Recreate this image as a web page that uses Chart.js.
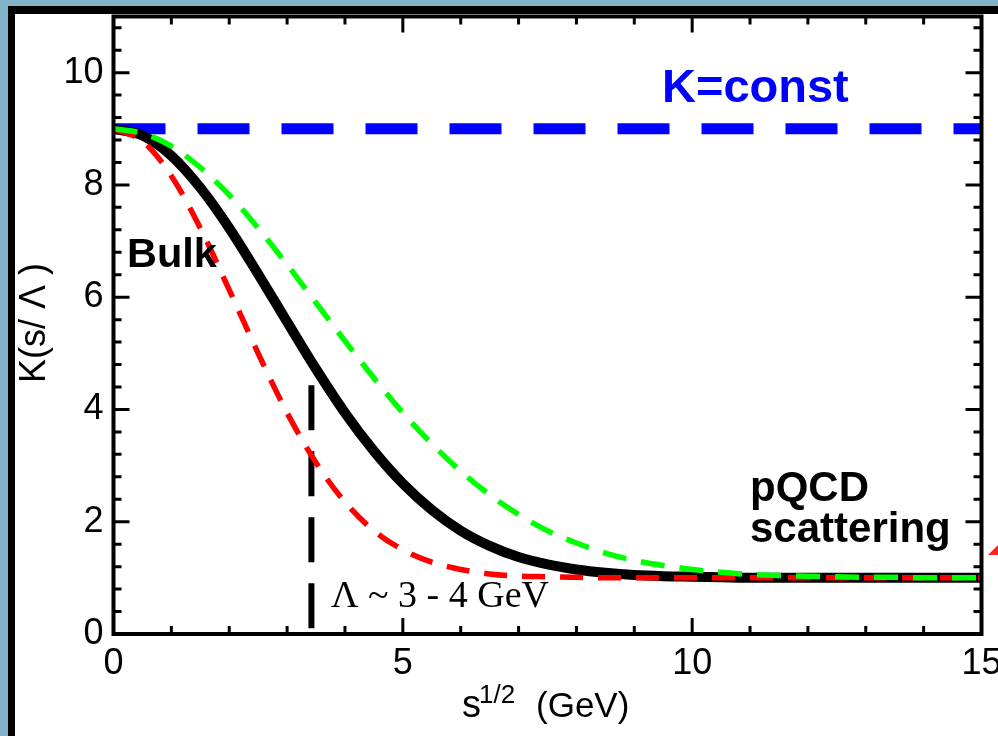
<!DOCTYPE html>
<html>
<head>
<meta charset="utf-8">
<script src="https://cdn.jsdelivr.net/npm/chart.js@4.4.1/dist/chart.umd.min.js"></script>
<style>
  html, body { margin: 0; padding: 0; width: 998px; height: 736px; overflow: hidden; background: #82b3cb; }
  #panel { position: absolute; left: 8px; top: 6px; width: 2000px; height: 2000px; background: #fff;
           border-left: 7px solid #000; border-top: 8px solid #000; }
  #c { position: absolute; left: 0; top: -24px; }
</style>
</head>
<body>
<div id="panel"></div>
<canvas id="c" width="1040" height="790"></canvas>
<script>
// ---- data ----
const sGrid = [0,0.5,1,1.5,2,2.5,3,3.5,4,4.5,5,5.5,6,6.5,7,7.5,8,8.5,9,9.5,10,10.5,11,11.5,12,12.5,13,13.5,14,14.5,15];
const kBlack = [9.00,8.88,8.52,7.95,7.23,6.41,5.56,4.72,3.94,3.26,2.68,2.21,1.84,1.57,1.37,1.24,1.15,1.09,1.05,1.03,1.02,1.01,1.00,1.00,1.00,1.00,1.00,1.00,1.00,1.00,1.00];
const kRed   = [9.00,8.78,8.16,7.23,6.13,5.00,3.94,3.05,2.35,1.84,1.50,1.28,1.15,1.07,1.03,1.02,1.01,1.00,1.00,1.00,1.00,1.00,1.00,1.00,1.00,1.00,1.00,1.00,1.00,1.00,1.00];
const kGreen = [9.00,8.92,8.69,8.31,7.82,7.23,6.58,5.90,5.22,4.56,3.94,3.39,2.90,2.48,2.13,1.84,1.62,1.44,1.31,1.22,1.15,1.10,1.06,1.04,1.03,1.02,1.01,1.01,1.00,1.00,1.00];
const constX = [0, 15];
const constK = [9, 9];
const lambdaX = [3.42, 3.42];
const lambdaK = [4.43, 0];
const xTicks = [0, 5, 10, 15];
const yTicks = [0, 2, 4, 6, 8, 10];
const xRange = [0, 15];
const yRange = [0, 11];

const OFFY = 24; // canvas is shifted up by this amount
const pts = (xs, ys) => xs.map((x, i) => ({x: x, y: ys[i]}));

const decor = {
  id: 'decor',
  afterDatasetsDraw(chart) {
    const ctx = chart.ctx;
    const xs = chart.scales.x, ys = chart.scales.y;
    const a = chart.chartArea;
    ctx.save();
    // frame
    ctx.strokeStyle = '#000';
    ctx.lineWidth = 4;
    ctx.lineCap = 'butt';
    ctx.strokeRect(a.left, a.top, a.right - a.left, a.bottom - a.top);
    // inward ticks
    ctx.lineWidth = 3;
    ctx.beginPath();
    for (let v = 0; v <= 15; v += 1) {
      const px = xs.getPixelForValue(v);
      const len = (v % 5 === 0) ? 16 : 8;
      ctx.moveTo(px, a.bottom); ctx.lineTo(px, a.bottom - len);
      ctx.moveTo(px, a.top); ctx.lineTo(px, a.top + len);
    }
    for (let i = 0; i <= 27; i++) {
      const v = i * 0.4;
      const py = ys.getPixelForValue(v);
      const len = (i % 5 === 0) ? 16 : 8;
      ctx.moveTo(a.left, py); ctx.lineTo(a.left + len, py);
      ctx.moveTo(a.right, py); ctx.lineTo(a.right - len, py);
    }
    ctx.stroke();

    // annotations (page coords -> canvas coords)
    const T = (txt, x, y, font, color, align) => {
      ctx.font = font; ctx.fillStyle = color; ctx.textAlign = align || 'left'; ctx.textBaseline = 'alphabetic';
      ctx.fillText(txt, x, y + OFFY);
    };
    T('K=const', 662, 102, 'bold 47px "Liberation Sans", Arial, sans-serif', '#0000ff');
    T('Bulk', 127, 267, 'bold 41.5px "Liberation Sans", Arial, sans-serif', '#000');
    T('pQCD', 750, 501, 'bold 42px "Liberation Sans", Arial, sans-serif', '#000');
    T('scattering', 750, 542, 'bold 42px "Liberation Sans", Arial, sans-serif', '#000');
    T('\u039B ~ 3 - 4 GeV', 331, 607, '38px "Liberation Serif", "Times New Roman", serif', '#000');
    // x axis title with superscript
    T('s', 462, 717, '38px "Liberation Sans", Arial, sans-serif', '#000');
    T('1/2', 479, 703, '26px "Liberation Sans", Arial, sans-serif', '#000');
    T('(GeV)', 536, 717, '35px "Liberation Sans", Arial, sans-serif', '#000');
    // y axis title, rotated
    ctx.save();
    ctx.translate(45, 323 + OFFY);
    ctx.rotate(-Math.PI / 2);
    ctx.font = '36px "Liberation Sans", Arial, sans-serif';
    ctx.fillStyle = '#000'; ctx.textAlign = 'center'; ctx.textBaseline = 'alphabetic';
    ctx.fillText('K(s/ \u039B )', 0, 0);
    ctx.restore();
    // small red arrow tip at right edge
    ctx.fillStyle = '#ff2020';
    ctx.beginPath();
    ctx.moveTo(988, 555 + OFFY); ctx.lineTo(999, 555 + OFFY); ctx.lineTo(999, 544 + OFFY);
    ctx.closePath(); ctx.fill();
    ctx.restore();
  }
};

const tickFont = { family: '"Liberation Sans", Arial, sans-serif', size: 36 };

new Chart(document.getElementById('c'), {
  type: 'line',
  data: {
    datasets: [
      { data: pts(sGrid, kGreen), borderColor: '#00ff00', borderWidth: 5.5, borderDash: [24, 15],
        pointRadius: 0, cubicInterpolationMode: 'monotone', fill: false, order: 0 },
      { data: pts(sGrid, kRed), borderColor: '#ff0000', borderWidth: 5.5, borderDash: [23, 15],
        pointRadius: 0, cubicInterpolationMode: 'monotone', fill: false, order: 1 },
      { data: pts(lambdaX, lambdaK), borderColor: '#000', borderWidth: 6, borderDash: [45, 21],
        pointRadius: 0, tension: 0, fill: false, order: 2 },
      { data: pts(sGrid, kBlack), borderColor: '#000', borderWidth: 10,
        pointRadius: 0, cubicInterpolationMode: 'monotone', fill: false, order: 3 },
      { data: pts(constX, constK), borderColor: '#0000ff', borderWidth: 11, borderDash: [52, 32],
        pointRadius: 0, tension: 0, fill: false, order: 4 }
    ]
  },
  options: {
    responsive: false,
    animation: false,
    devicePixelRatio: 1,
    layout: { padding: { left: 0, top: 40.5, right: 58.5, bottom: 0 } },
    plugins: { legend: { display: false }, tooltip: { enabled: false } },
    scales: {
      x: {
        type: 'linear', min: xRange[0], max: xRange[1],
        grid: { display: false, drawTicks: false }, border: { display: false },
        afterBuildTicks: (s) => { s.ticks = xTicks.map(v => ({ value: v })); },
        afterFit: (s) => { s.height = 132; },
        ticks: { color: '#000', font: tickFont, padding: 8, maxRotation: 0, autoSkip: false }
      },
      y: {
        type: 'linear', min: yRange[0], max: yRange[1],
        grid: { display: false, drawTicks: false }, border: { display: false },
        afterBuildTicks: (s) => { s.ticks = yTicks.map(v => ({ value: v })); },
        afterFit: (s) => { s.width = 113.5; },
        ticks: { color: '#000', font: tickFont, padding: 10, autoSkip: false }
      }
    }
  },
  plugins: [decor]
});
</script>
</body>
</html>
